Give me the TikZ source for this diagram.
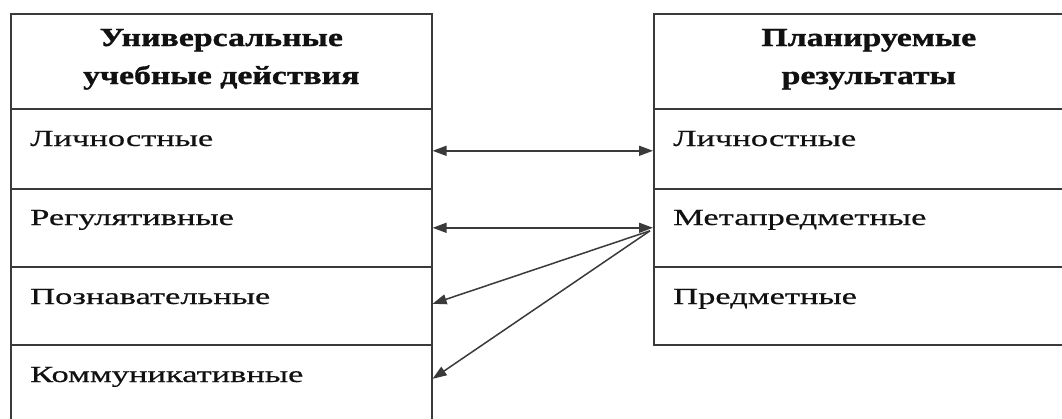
\documentclass[tikz,border=0pt]{standalone}
\usepackage{fontspec}
\setmainfont{Liberation Serif}
\newfontfamily\bodyfont[FakeStretch=1.5,FakeBold=0.5]{Liberation Serif}
\newfontfamily\headfont[FakeStretch=1.3,FakeBold=1.2]{Liberation Serif}
\usetikzlibrary{arrows.meta,calc}
\definecolor{linegray}{HTML}{3A3A3A}
\definecolor{txt}{HTML}{111111}
\begin{document}
\begin{tikzpicture}[x=1pt,y=-1pt,
  cell/.style={draw=linegray, line width=1.6pt, rectangle, inner sep=0pt, anchor=north west},
  bodytxt/.style={inner sep=0pt, anchor=base west, text=txt, font=\bodyfont\fontsize{23}{27}\selectfont},
  headtxt/.style={inner sep=0pt, align=center, text=txt, font=\headfont\bfseries\fontsize{26}{38}\selectfont},
  arr/.style={draw=linegray, line width=1.5pt, arrows={Triangle[length=14pt,width=10pt]-Triangle[length=14pt,width=10pt]}},
  arrone/.style={draw=linegray, line width=1.5pt, arrows={-Triangle[length=14pt,width=10pt]}}
]
\useasboundingbox (0,0) rectangle (1062,418);
\fill[white] (0,0) rectangle (1062,418);
\clip (0,0) rectangle (1062,418);
% left table
\node[cell, minimum width=421pt, minimum height=95pt] (lh) at (10,13) {};
\node[cell, minimum width=421pt, minimum height=80pt] (l1) at (10,108) {};
\node[cell, minimum width=421pt, minimum height=78pt] (l2) at (10,188) {};
\node[cell, minimum width=421pt, minimum height=78pt] (l3) at (10,266) {};
\node[cell, minimum width=421pt, minimum height=80pt] (l4) at (10,344) {};
% right table
\node[cell, minimum width=430pt, minimum height=95pt] (rh) at (653,13) {};
\node[cell, minimum width=430pt, minimum height=80pt] (r1) at (653,108) {};
\node[cell, minimum width=430pt, minimum height=78pt] (r2) at (653,188) {};
\node[cell, minimum width=430pt, minimum height=78pt] (r3) at (653,266) {};
% headers
\node[headtxt] (lht) at ($(lh.center)+(0,-2)$) {Универсальные\\учебные действия};
\node[headtxt] (rht) at ($(rh.center)+(0,-2)$) {Планируемые\\результаты};
% body texts
\node[bodytxt] (lt1) at (30,146) {Личностные};
\node[bodytxt] (lt2) at (30,225) {Регулятивные};
\node[bodytxt] (lt3) at (30,304) {Познавательные};
\node[bodytxt] (lt4) at (30,382) {Коммуникативные};
\node[bodytxt] (rt1) at (673,146) {Личностные};
\node[bodytxt] (rt2) at (673,225) {Метапредметные};
\node[bodytxt] (rt3) at (673,304) {Предметные};
% connectors
\coordinate (a1l) at ($(l1.east)+(0,2)$);
\coordinate (a1r) at ($(r1.west)+(0,2)$);
\draw[arr] (a1l) -- (a1r);
\draw[arr] (l2.east) -- (r2.west);
\coordinate (m) at ($(r2.west)+(-3,3)$);
\coordinate (e3) at ($(l3.east)+(0,-2)$);
\coordinate (e4) at ($(l4.east)+(0,-6)$);
\draw[arrone] (m) -- (e3);
\draw[arrone] (m) -- (e4);
\end{tikzpicture}
\end{document}
